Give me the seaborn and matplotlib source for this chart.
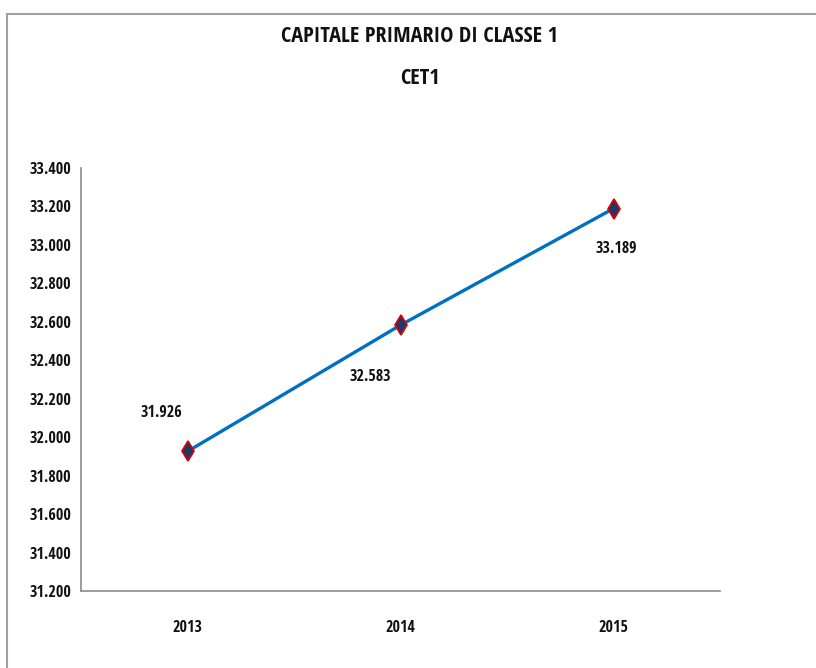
import matplotlib
matplotlib.use("Agg")
import matplotlib.pyplot as plt
from matplotlib.patches import Rectangle
import seaborn as sns
import pandas as pd

years = ["2013", "2014", "2015"]
cet1 = [31926, 32583, 33189]
label_text = ["31.926", "32.583", "33.189"]
y_ticks = [31200, 31400, 31600, 31800, 32000, 32200, 32400, 32600, 32800, 33000, 33200, 33400]

sns.set_theme(style="white")
plt.rcParams["font.family"] = ["Open Sans Condensed", "Fira Sans Condensed", "DejaVu Sans"]

df = pd.DataFrame({"anno": years, "valore": cet1})

fig = plt.figure(figsize=(8.16, 6.68), dpi=100)
ax = fig.add_axes([81 / 816, 1 - 591 / 668, 639 / 816, 423 / 668])

sns.lineplot(data=df, x="anno", y="valore", ax=ax, color="#0070C0", linewidth=2.4,
             marker="d", markersize=10.5, markerfacecolor="#1F3864",
             markeredgecolor="#E00000", markeredgewidth=1.2, sort=False)

ax.set_xlim(-0.5, 2.5)
ax.set_ylim(31200, 33400)
ax.set_yticks(y_ticks)
ax.set_yticklabels([f"{v/1000:.3f}" for v in y_ticks])
ax.set_xlabel("")
ax.set_ylabel("")
ax.tick_params(axis="both", length=0, labelsize=11.5)
ax.tick_params(axis="y", pad=7)
ax.tick_params(axis="x", pad=21)
for lbl in ax.get_xticklabels() + ax.get_yticklabels():
    lbl.set_fontweight("bold")
    lbl.set_color("#111111")

for s in ["top", "right"]:
    ax.spines[s].set_visible(False)
for s in ["left", "bottom"]:
    ax.spines[s].set_color("#8c8c8c")
    ax.spines[s].set_linewidth(1.2)

# data labels
offsets = [(-26, 38), (-30, -52), (3, -40)]
for i, (v, t) in enumerate(zip(cet1, label_text)):
    ax.annotate(t, (i, v), xytext=offsets[i], textcoords="offset pixels",
                ha="center", va="center", fontsize=11.5, fontweight="bold", color="#111111")

fig.text(0.5147, 1 - 36 / 668, "CAPITALE PRIMARIO DI CLASSE 1", ha="center", va="center",
         fontsize=16, fontweight="bold", color="#111111")
fig.text(0.5147, 1 - 78 / 668, "CET1", ha="center", va="center",
         fontsize=16, fontweight="bold", color="#111111")

# outer chart frame
fig.patches.append(Rectangle((7 / 816, -0.05), 1.1, 1 - 14 / 668 + 0.05,
                             transform=fig.transFigure, fill=False,
                             edgecolor="#a0a0a0", linewidth=1.5))

fig.savefig("out.png", dpi=100)
